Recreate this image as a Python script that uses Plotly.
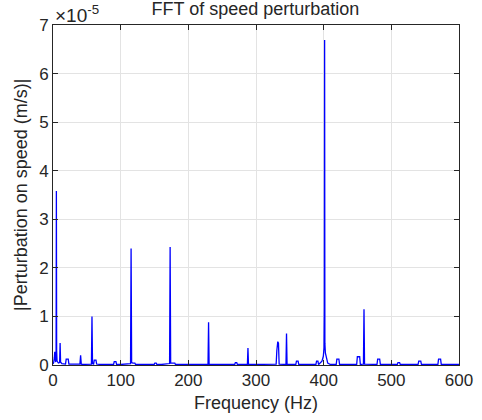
import plotly.graph_objects as go

# Spectrum: frequency (Hz) and |amplitude| in units of 1e-5 m/s
freq_hz = [0, 1, 2, 2.6, 3.2, 4, 4.6, 5.0, 5.4, 6, 7, 8, 9.8, 10.5, 11.2, 13, 18.5, 19.5, 22.5, 23.5,
           30, 39.8, 40.8, 41.8, 43, 50, 56.8, 57.6, 58.4, 60, 61, 63.5, 64.5, 70, 80,
           89.5, 90.5, 93, 94, 100, 114.6, 115.4, 116.2, 118, 121, 122, 130,
           149.5, 150.5, 152.5, 153.5, 160, 172.3, 173.1, 173.9, 176, 180, 181, 200,
           229.1, 229.9, 230.7, 250, 268.5, 269.5, 271.5, 272.5, 280, 287.3, 288.1, 288.9, 300,
           328.8, 329.8, 330.8, 332.2, 333.2, 334.2, 344.3, 345.1, 345.9,
           358.8, 359.8, 362.2, 363.2, 380, 388.5, 389.5, 391.5, 392.5, 395, 397.5, 399.5,
           400.5, 401.0, 401.4, 401.8, 402.5, 404, 406, 410,
           418.5, 419.5, 422.5, 423.5, 440, 448.8, 449.8, 453.2, 454.2, 458.8, 459.6, 460.4,
           478.8, 479.8, 482.8, 483.8, 500, 508.8, 509.8, 512.2, 513.2, 530,
           539.5, 540.5, 543.5, 544.5, 560, 568.8, 569.8, 572.8, 573.8, 590, 600]
amp_e5 = [0.02, 0.05, 0.15, 0.27, 0.12, 0.06, 0.3, 3.58, 0.3, 0.08, 0.05, 0.04, 0.05, 0.45, 0.06, 0.03, 0.02, 0.12, 0.12, 0.02,
          0.02, 0.02, 0.2, 0.02, 0.01, 0.01, 0.02, 1.0, 0.03, 0.02, 0.1, 0.1, 0.02, 0.01, 0.01,
          0.01, 0.07, 0.07, 0.01, 0.01, 0.03, 2.4, 0.05, 0.04, 0.04, 0.01, 0.01,
          0.01, 0.04, 0.04, 0.01, 0.01, 0.03, 2.43, 0.04, 0.04, 0.04, 0.01, 0.01,
          0.01, 0.88, 0.01, 0.01, 0.01, 0.05, 0.05, 0.01, 0.01, 0.01, 0.35, 0.01, 0.01,
          0.01, 0.02, 0.3, 0.48, 0.45, 0.02, 0.01, 0.65, 0.01,
          0.01, 0.08, 0.08, 0.01, 0.01, 0.01, 0.08, 0.08, 0.01, 0.04, 0.08, 0.18,
          0.35, 1.2, 6.69, 0.45, 0.25, 0.12, 0.04, 0.01,
          0.01, 0.12, 0.12, 0.01, 0.01, 0.01, 0.17, 0.17, 0.01, 0.02, 1.15, 0.02,
          0.01, 0.12, 0.12, 0.01, 0.01, 0.01, 0.05, 0.05, 0.01, 0.01,
          0.01, 0.08, 0.08, 0.01, 0.01, 0.01, 0.12, 0.12, 0.01, 0.01, 0.01]

SCALE = 1e-5
y_ticks = [0, 1, 2, 3, 4, 5, 6, 7]
x_ticks = [0, 100, 200, 300, 400, 500, 600]

TXT = "#262626"
FONT = "Liberation Sans, Arial, Helvetica, sans-serif"

fig = go.Figure()
fig.add_trace(go.Scatter(
    x=freq_hz, y=[a * SCALE for a in amp_e5], mode="lines",
    line=dict(color="#0000ff", width=1.3), showlegend=False, hoverinfo="skip"))

axis_common = dict(showline=True, linecolor=TXT, linewidth=1, mirror="ticks",
                   ticks="inside", ticklen=5, tickcolor=TXT, tickwidth=1,
                   showgrid=True, gridcolor="#e3e3e3", gridwidth=1, zeroline=False,
                   automargin=False,
                   tickfont=dict(family=FONT, size=17, color=TXT))

fig.update_xaxes(range=[0, 600], tickvals=x_ticks, ticktext=[str(t) for t in x_ticks], **axis_common)
fig.update_yaxes(range=[0, 7 * SCALE], tickvals=[t * SCALE for t in y_ticks],
                 ticktext=[str(t) for t in y_ticks], **axis_common)

fig.update_layout(
    width=482, height=420, autosize=False,
    paper_bgcolor="white", plot_bgcolor="white",
    margin=dict(l=53, r=23, t=25, b=55),
    title=dict(text="FFT of speed perturbation", x=0.53, xref="container", xanchor="center",
               y=1, yref="container", yanchor="top", pad=dict(t=2),
               font=dict(family=FONT, size=18, color=TXT)),
    annotations=[
        dict(text="×10<sup>-5</sup>", xref="paper", yref="paper", x=0, y=1,
             xanchor="left", yanchor="bottom", showarrow=False, xshift=0, yshift=-3,
             font=dict(family=FONT, size=19, color=TXT)),
        dict(text="Frequency (Hz)", xref="paper", yref="paper", x=0.5, y=0,
             xanchor="center", yanchor="top", showarrow=False, yshift=-26,
             font=dict(family=FONT, size=18, color=TXT)),
        dict(text="|Perturbation on speed (m/s)|", xref="paper", yref="paper", x=0, y=0.5,
             xanchor="right", yanchor="middle", textangle=-90, showarrow=False, xshift=-20,
             font=dict(family=FONT, size=18, color=TXT)),
    ],
)

fig.write_html("out.html", config={"displayModeBar": False, "staticPlot": True})

# remove the browser's default page margin so the figure sits at the top-left corner
with open("out.html", "r", encoding="utf-8") as f:
    html = f.read()
html = html.replace("<head>", "<head><style>html,body{margin:0;padding:0;overflow:hidden;}</style>", 1)
with open("out.html", "w", encoding="utf-8") as f:
    f.write(html)
